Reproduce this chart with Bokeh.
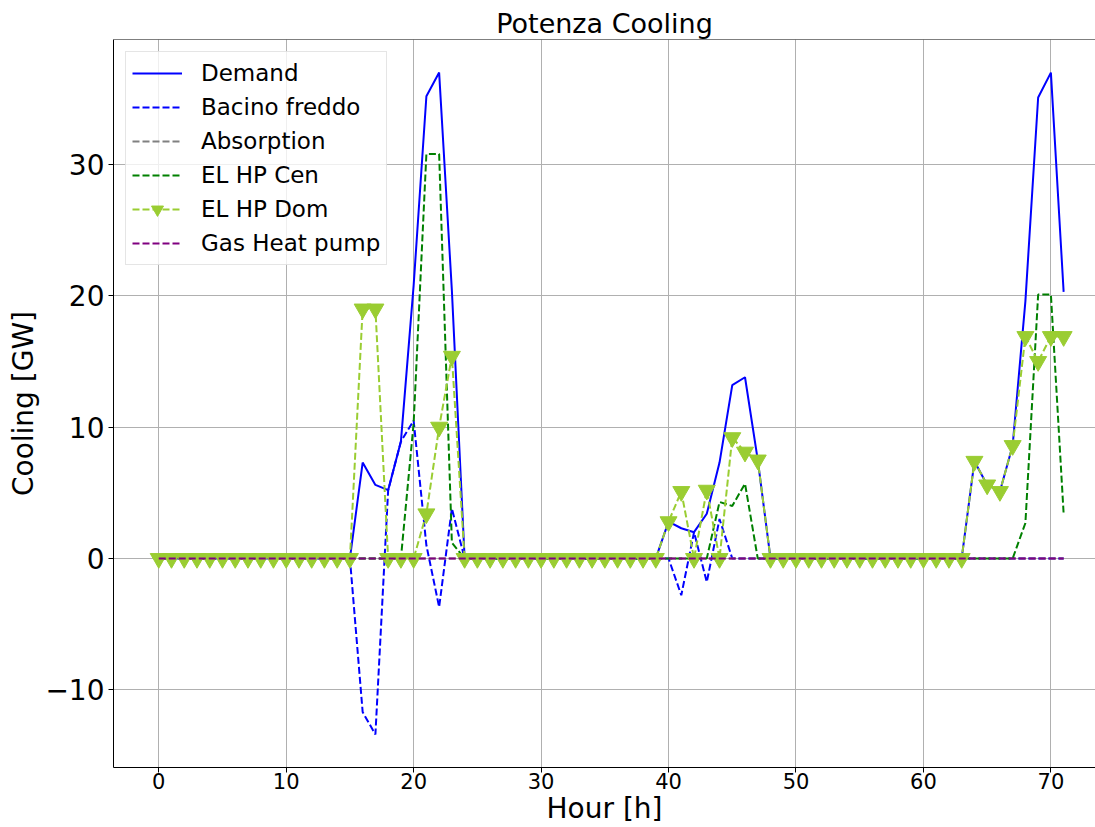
from bokeh.plotting import figure
from bokeh.models import Range1d, FixedTicker, Legend, LegendItem, Span
from bokeh.embed import file_html
from bokeh.resources import INLINE

# Hourly cooling power by technology [GW]
hours = list(range(72))

demand = [0.0] * 72
bacino_freddo = [0.0] * 72
absorption = [0.0] * 72
el_hp_cen = [0.0] * 72
el_hp_dom = [0.0] * 72
gas_heat_pump = [0.0] * 72

demand_vals = {16: 7.3, 17: 5.6, 18: 5.2, 19: 8.9, 20: 20.8, 21: 35.2, 22: 37.0, 23: 20.4,
               40: 2.8, 41: 2.3, 42: 2.0, 43: 3.4, 44: 7.3, 45: 13.2, 46: 13.8, 47: 7.5,
               64: 7.4, 65: 5.6, 66: 5.1, 67: 8.6, 68: 19.6, 69: 35.1, 70: 37.0, 71: 20.3}
bacino_vals = {16: -11.7, 17: -13.4, 18: 5.2, 19: 8.9, 20: 10.5, 21: 1.0, 22: -3.7, 23: 3.8,
               41: -2.8, 42: 2.0, 43: -1.8, 44: 3.0}
cen_vals = {20: 10.3, 21: 30.8, 22: 30.8, 23: 1.2,
            44: 4.3, 45: 4.0, 46: 5.7,
            68: 2.7, 69: 20.1, 70: 20.1, 71: 3.4}
dom_vals = {16: 19.0, 17: 19.0, 21: 3.4, 22: 10.0, 23: 15.4,
            40: 2.8, 41: 5.1, 43: 5.2, 45: 9.2, 46: 8.1, 47: 7.5,
            64: 7.4, 65: 5.6, 66: 5.1, 67: 8.6, 68: 16.9, 69: 15.0, 70: 16.9, 71: 16.9}

for h, v in demand_vals.items():
    demand[h] = v
for h, v in bacino_vals.items():
    bacino_freddo[h] = v
for h, v in cen_vals.items():
    el_hp_cen[h] = v
for h, v in dom_vals.items():
    el_hp_dom[h] = v

x_ticks = [0, 10, 20, 30, 40, 50, 60, 70]
y_ticks = [-10, 0, 10, 20, 30]

FONT = "DejaVu Sans"
DASH = "7 3"

p = figure(width=1095, height=827,
           x_range=Range1d(-3.55, 73.5), y_range=Range1d(-15.92, 39.52),
           output_backend="svg", toolbar_location=None,
           min_border_left=113, min_border_right=0,
           min_border_top=39, min_border_bottom=60)

p.title.text = "Potenza Cooling"
p.title.text_font = FONT
p.title.text_font_size = "27px"
p.title.text_font_style = "normal"
p.title.text_color = "black"
p.title.align = "center"
p.title.standoff = 2
p.title.offset = 0

p.outline_line_color = None
p.background_fill_color = "white"
p.border_fill_color = "white"

# top spine
p.add_layout(Span(location=39.52, dimension="width", line_color="black", line_width=1))

for ax in (p.xaxis[0], p.yaxis[0]):
    ax.axis_line_color = "black"
    ax.axis_line_width = 1
    ax.major_tick_line_color = "black"
    ax.major_tick_out = 5
    ax.major_tick_in = 0
    ax.minor_tick_out = 0
    ax.minor_tick_in = 0
    ax.major_label_text_font = FONT
    ax.axis_label_text_font = FONT
    ax.axis_label_text_font_style = "normal"
    ax.axis_label_text_color = "black"
    ax.major_label_text_color = "black"

p.xaxis.ticker = FixedTicker(ticks=x_ticks)
p.yaxis.ticker = FixedTicker(ticks=y_ticks)
p.yaxis.major_label_overrides = {t: (f"\u2212{abs(t)}" if t < 0 else str(t)) for t in y_ticks}
p.xaxis.major_label_text_font_size = "21px"
p.yaxis.major_label_text_font_size = "28px"
p.xaxis.axis_label = "Hour [h]"
p.yaxis.axis_label = "Cooling [GW]"
p.xaxis.axis_label_text_font_size = "28px"
p.yaxis.axis_label_text_font_size = "28px"
p.xaxis.major_label_standoff = 0
p.yaxis.major_label_standoff = 4
p.xaxis.axis_label_standoff = 0
p.yaxis.axis_label_standoff = 2

p.xgrid.ticker = FixedTicker(ticks=x_ticks)
p.ygrid.ticker = FixedTicker(ticks=y_ticks)
for g in (p.xgrid[0], p.ygrid[0]):
    g.grid_line_color = "#b0b0b0"
    g.grid_line_width = 1

r_demand = p.line(hours, demand, line_color="#0000ff", line_width=2)
r_bacino = p.line(hours, bacino_freddo, line_color="#0000ff", line_width=2, line_dash=DASH)
r_abs = p.line(hours, absorption, line_color="#808080", line_width=2, line_dash=DASH)
r_cen = p.line(hours, el_hp_cen, line_color="#008000", line_width=2, line_dash=DASH)
r_dom = p.line(hours, el_hp_dom, line_color="#9acd32", line_width=2, line_dash=DASH)
r_dom_m = p.scatter(hours, el_hp_dom, marker="inverted_triangle", size=17,
                    fill_color="#9acd32", line_color="#9acd32")
r_gas = p.line(hours, gas_heat_pump, line_color="#800080", line_width=2, line_dash=DASH)

legend = Legend(items=[
    LegendItem(label="Demand", renderers=[r_demand]),
    LegendItem(label="Bacino freddo", renderers=[r_bacino]),
    LegendItem(label="Absorption", renderers=[r_abs]),
    LegendItem(label="EL HP Cen", renderers=[r_cen]),
    LegendItem(label="EL HP Dom", renderers=[r_dom, r_dom_m]),
    LegendItem(label="Gas Heat pump", renderers=[r_gas]),
], location="top_left")
legend.margin = 12
legend.padding = 6
legend.spacing = 4
legend.glyph_width = 50
legend.glyph_height = 30
legend.label_height = 30
legend.label_standoff = 19
legend.label_text_font = FONT
legend.label_text_font_size = "23px"
legend.label_text_color = "black"
legend.border_line_color = "#cccccc"
legend.border_line_width = 1
legend.background_fill_alpha = 0.8
p.add_layout(legend, "center")

open("out.html", "w").write(file_html(p, INLINE))
